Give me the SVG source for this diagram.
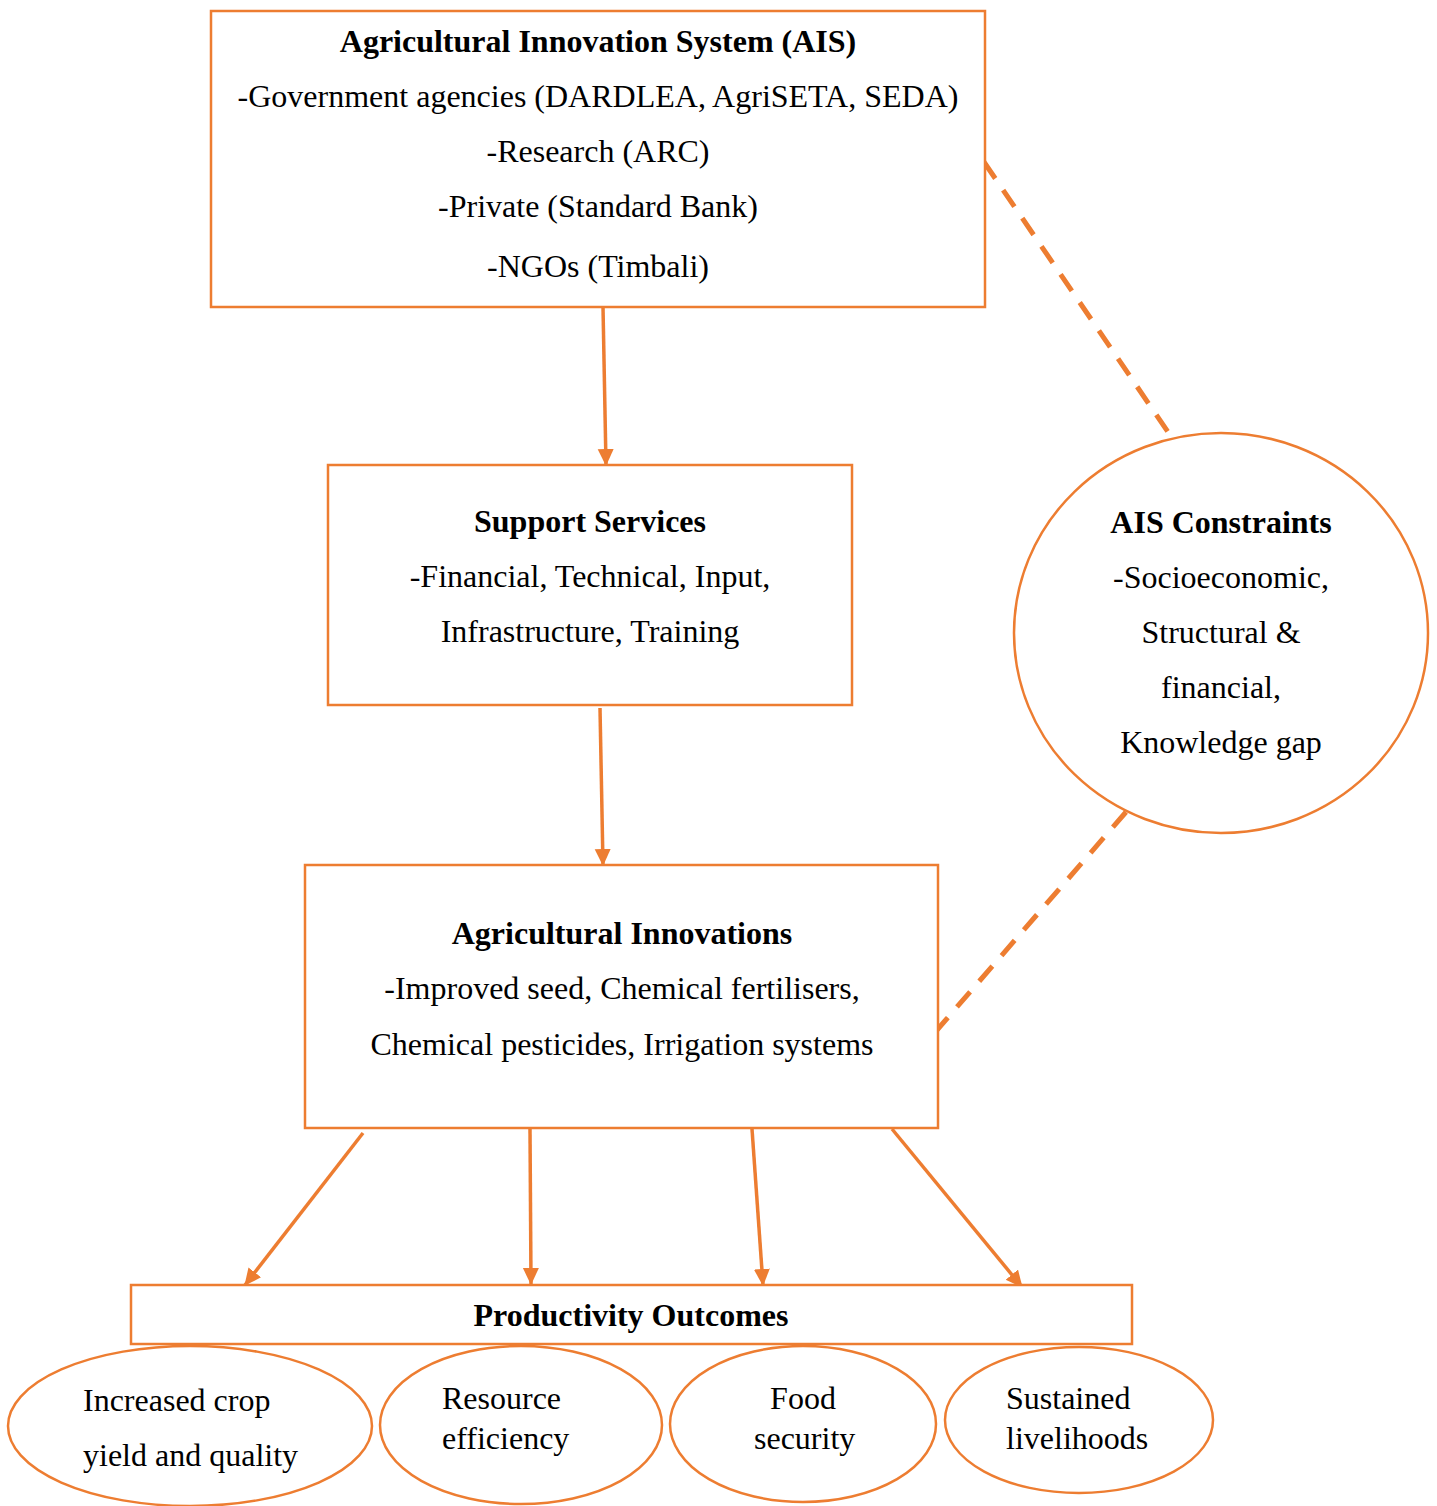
<svg xmlns="http://www.w3.org/2000/svg" width="1437" height="1506" viewBox="0 0 1437 1506">
<style>
.box{fill:#fff;stroke:#ED7D31;stroke-width:2.5}
.t{font-family:"Liberation Serif","Times New Roman",serif;font-size:32px;fill:#000}
.b{font-weight:bold}
.c{text-anchor:middle}
.ln{stroke:#ED7D31;stroke-width:3.5;fill:none}
.dash{stroke:#ED7D31;stroke-width:5;fill:none;stroke-dasharray:20 14}
</style>
<defs>
<marker id="ah" markerWidth="18" markerHeight="18" refX="16" refY="8" orient="auto" markerUnits="userSpaceOnUse">
<path d="M0,0 L17,8 L0,16 Z" fill="#ED7D31"/>
</marker>
</defs>
<rect width="1437" height="1506" fill="#fff"/>
<g id="connectors">
<line class="ln" x1="603" y1="307" x2="606" y2="465" marker-end="url(#ah)"/>
<line class="ln" x1="600" y1="708" x2="603" y2="865" marker-end="url(#ah)"/>
<line class="ln" x1="363" y1="1133" x2="245" y2="1285" marker-end="url(#ah)"/>
<line class="ln" x1="530" y1="1129" x2="531" y2="1284" marker-end="url(#ah)"/>
<line class="ln" x1="752" y1="1129" x2="763" y2="1285" marker-end="url(#ah)"/>
<line class="ln" x1="892" y1="1129" x2="1022" y2="1287" marker-end="url(#ah)"/>
<line class="dash" x1="984" y1="162" x2="1168" y2="432"/>
<line class="dash" x1="1126" y1="812" x2="937" y2="1030"/>
</g>
<g id="ais">
<rect class="box" x="211" y="11" width="774" height="296"/>
<text class="t b c" x="598" y="52">Agricultural Innovation System (AIS)</text>
<text class="t c" x="598" y="107">-Government agencies (DARDLEA, AgriSETA, SEDA)</text>
<text class="t c" x="598" y="162">-Research (ARC)</text>
<text class="t c" x="598" y="217">-Private (Standard Bank)</text>
<text class="t c" x="598" y="277">-NGOs (Timbali)</text>
</g>
<g id="support">
<rect class="box" x="328" y="465" width="524" height="240"/>
<text class="t b c" x="590" y="532">Support Services</text>
<text class="t c" x="590" y="587">-Financial, Technical, Input,</text>
<text class="t c" x="590" y="642">Infrastructure, Training</text>
</g>
<g id="constraints">
<ellipse class="box" cx="1221" cy="633" rx="207" ry="200"/>
<text class="t b c" x="1221" y="533">AIS Constraints</text>
<text class="t c" x="1221" y="588">-Socioeconomic,</text>
<text class="t c" x="1221" y="643">Structural &amp;</text>
<text class="t c" x="1221" y="698">financial,</text>
<text class="t c" x="1221" y="753">Knowledge gap</text>
</g>
<g id="innovations">
<rect class="box" x="305" y="865" width="633" height="263"/>
<text class="t b c" x="622" y="944">Agricultural Innovations</text>
<text class="t c" x="622" y="999">-Improved seed, Chemical fertilisers,</text>
<text class="t c" x="622" y="1055">Chemical pesticides, Irrigation systems</text>
</g>
<g id="outcomes">
<rect class="box" x="131" y="1285" width="1001" height="59"/>
<text class="t b c" x="631" y="1326">Productivity Outcomes</text>
</g>
<g id="yield">
<ellipse class="box" cx="190" cy="1426" rx="182" ry="80"/>
<text class="t" x="83" y="1411">Increased crop</text>
<text class="t" x="83" y="1466">yield and quality</text>
</g>
<g id="resource">
<ellipse class="box" cx="521" cy="1425" rx="141" ry="79"/>
<text class="t" x="442" y="1409">Resource</text>
<text class="t" x="442" y="1449">efficiency</text>
</g>
<g id="food">
<ellipse class="box" cx="803" cy="1424" rx="133" ry="78"/>
<text class="t c" x="803" y="1409">Food</text>
<text class="t" x="754" y="1449">security</text>
</g>
<g id="livelihoods">
<ellipse class="box" cx="1079" cy="1420" rx="134" ry="73"/>
<text class="t" x="1006" y="1409">Sustained</text>
<text class="t" x="1006" y="1449">livelihoods</text>
</g>
</svg>
